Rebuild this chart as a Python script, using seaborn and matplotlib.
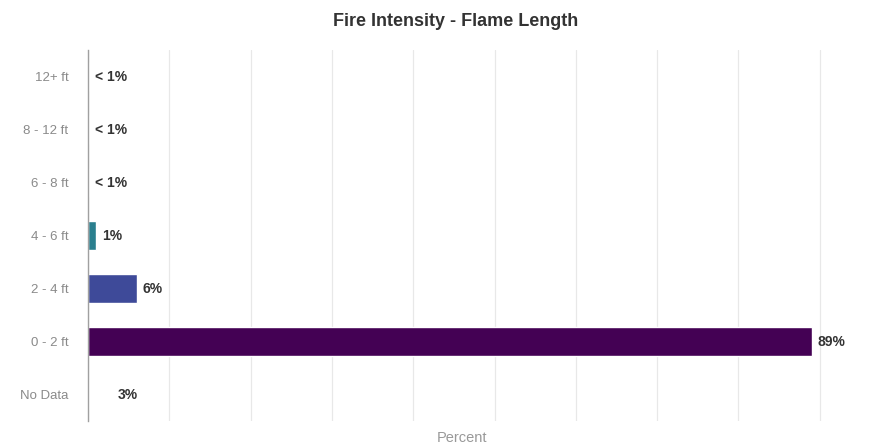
import matplotlib
matplotlib.use("Agg")
import matplotlib.pyplot as plt
import seaborn as sns
import pandas as pd

categories = ["12+ ft", "8 - 12 ft", "6 - 8 ft", "4 - 6 ft", "2 - 4 ft", "0 - 2 ft", "No Data"]
values = [0.1, 0.1, 0.1, 1, 6, 89, 3]
labels = ["< 1%", "< 1%", "< 1%", "1%", "6%", "89%", "3%"]
colors = ["#fde725", "#5ec962", "#21918c", "#2a7f8e", "#3e4a99", "#440154", "#ffffff"]

sns.set_theme(style="white")
plt.rcParams['font.family'] = ['Liberation Sans', 'DejaVu Sans']

df = pd.DataFrame({"cat": categories, "val": values})

fig = plt.figure(figsize=(8.93, 4.45), dpi=100)
ax = fig.add_axes([88/893, 1-421/445, (836-88)/893, (421-50)/445])

sns.barplot(data=df, y="cat", x="val", hue="cat", palette=colors, orient="h",
            width=0.55, legend=False, ax=ax, saturation=1)

ax.set_xlim(0, 92)
ax.set_xticks(range(0, 91, 10))
ax.set_xticklabels([])
ax.tick_params(axis="x", length=0)
ax.tick_params(axis="y", length=0, pad=14, labelsize=9.5, labelcolor="#8a8a8a")
ax.grid(axis="x", color="#e8e8e8", linewidth=0.9)
ax.set_axisbelow(True)
for s in ["top", "right", "bottom"]:
    ax.spines[s].set_visible(False)
ax.spines["left"].set_color("#a0a0a0")
ax.spines["left"].set_linewidth(1.0)
ax.set_ylabel("")
ax.set_xlabel("Percent", fontsize=10.5, color="#999999", labelpad=4)

for i, (v, lab) in enumerate(zip(values, labels)):
    ax.text(v + 0.7, i, lab, va="center", ha="left", fontsize=10,
            fontweight="bold", color="#333333")

fig.text(0.51, 0.952, "Fire Intensity - Flame Length", ha="center", va="center",
         fontsize=13, fontweight="bold", color="#333333")

fig.savefig("out.png", dpi=100)
